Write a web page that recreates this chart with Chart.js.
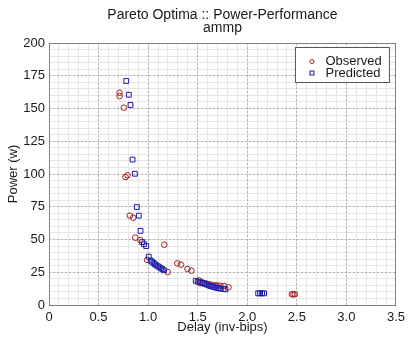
<!DOCTYPE html>
<html>
<head>
<meta charset="utf-8">
<script src="https://cdn.jsdelivr.net/npm/chart.js@4/dist/chart.umd.min.js"></script>
<style>
  html, body { margin: 0; padding: 0; background: #fff; }
  canvas { display: block; }
</style>
</head>
<body>
<canvas id="paretoChart" width="410" height="338"></canvas>
<script>
const titleLines = ["Pareto Optima :: Power-Performance", "ammp"];
const xTicks = [0, 0.5, 1, 1.5, 2, 2.5, 3, 3.5];
const yTicks = [0, 25, 50, 75, 100, 125, 150, 175, 200];

// observed (red circles)
const obsDelay = [0.712, 0.712, 0.755, 0.772, 0.792, 0.816, 0.850, 0.870, 0.921, 0.990,
  1.163, 1.197, 1.294, 1.331, 1.397, 1.437, 1.515, 1.525, 1.55, 1.58,
  1.615, 1.648, 1.68, 1.70, 1.73, 1.765, 1.81, 2.45, 2.465, 2.48];
const obsPower = [162, 159.5, 150.6, 97.7, 99, 68.2, 66.6, 51.4, 49.6, 34.5,
  46, 25.2, 31.8, 30.8, 27.5, 26.2, 18.8, 16.6, 17.2, 16.6,
  16, 15.3, 15, 14.8, 14.7, 14.5, 13.5, 8.2, 8.2, 8.2];

// predicted (blue squares)
const predDelay = [0.779, 0.805, 0.822, 0.843, 0.866, 0.886, 0.906, 0.923, 0.94, 0.958,
  0.98, 1.006, 1.025, 1.04, 1.055, 1.07, 1.085, 1.10, 1.115, 1.13,
  1.145, 1.16, 1.48, 1.50, 1.52, 1.55, 1.57, 1.59, 1.61, 1.63,
  1.65, 1.67, 1.69, 1.71, 1.73, 1.76, 1.78, 2.11, 2.13, 2.15, 2.17];
const predPower = [171, 160.5, 152.7, 111, 100.2, 74.8, 68.2, 56.6, 48, 46.4,
  45, 36.9, 34, 33, 32, 31, 30.2, 29.5, 28.7, 28,
  27.3, 26.5, 18.5, 17.8, 17.5, 16.8, 16.2, 15.6, 15, 14.5,
  14, 13.6, 13.2, 12.8, 12.5, 12.2, 12, 8.9, 8.9, 8.9, 8.9];

const obsColor = "#a81c1c";
const predColor = "#1c1ca8";
const textColor = "#1a1a1a";
const fontFamily = "'Liberation Sans', Arial, sans-serif";

Chart.defaults.font.family = fontFamily;
Chart.defaults.font.size = 13;
Chart.defaults.color = textColor;

// title over the plot area, box around it, legend inside top right
const framePlugin = {
  id: "frame",
  afterDraw(chart) {
    const { ctx, chartArea: a } = chart;
    ctx.save();
    ctx.strokeStyle = "#808080";
    ctx.lineWidth = 1;
    ctx.strokeRect(a.left + 0.5, a.top + 0.5, a.right - a.left - 1, a.bottom - a.top);

    const cx = (a.left + a.right) / 2;
    ctx.fillStyle = textColor;
    ctx.font = "14px " + fontFamily;
    ctx.textAlign = "center";
    ctx.textBaseline = "alphabetic";
    ctx.fillText(titleLines[0], cx, 19);
    ctx.fillText(titleLines[1], cx, 32);

    // legend
    const lx = a.right - 100.5, ly = a.top + 4.5, lw = 94, lh = 35;
    ctx.fillStyle = "#fff";
    ctx.fillRect(lx, ly, lw, lh);
    ctx.strokeStyle = "#555";
    ctx.strokeRect(lx, ly, lw, lh);

    ctx.lineWidth = 1;
    ctx.strokeStyle = obsColor;
    ctx.beginPath();
    ctx.arc(lx + 16.5, ly + 14, 2, 0, Math.PI * 2);
    ctx.stroke();
    ctx.strokeStyle = predColor;
    ctx.strokeRect(lx + 14.5, ly + 23.5, 4, 4);

    ctx.fillStyle = textColor;
    ctx.font = "13px " + fontFamily;
    ctx.textAlign = "left";
    ctx.textBaseline = "middle";
    ctx.fillText("Observed", lx + 30, ly + 14);
    ctx.fillText("Predicted", lx + 30, ly + 26);
    ctx.restore();
  }
};

const ctx = document.getElementById("paretoChart").getContext("2d");

new Chart(ctx, {
  type: "scatter",
  data: {
    datasets: [
      {
        label: "Observed",
        data: obsDelay.map((d, i) => ({ x: d, y: obsPower[i] })),
        pointStyle: "circle",
        radius: 2.8,
        borderWidth: 1,
        borderColor: obsColor,
        backgroundColor: "rgba(0,0,0,0)",
        order: 2,
      },
      {
        label: "Predicted",
        data: predDelay.map((d, i) => ({ x: d, y: predPower[i] })),
        pointStyle: "rect",
        radius: 3.4,
        borderWidth: 1,
        borderColor: predColor,
        backgroundColor: "rgba(0,0,0,0)",
        order: 1,
      },
    ],
  },
  options: {
    responsive: false,
    animation: false,
    devicePixelRatio: 1,
    layout: { padding: { top: 43, right: 12, left: 0, bottom: 0 } },
    plugins: {
      legend: { display: false },
      title: { display: false },
      tooltip: { enabled: false },
    },
    scales: {
      xMinor: {
        type: "linear",
        position: "bottom",
        min: 0, max: 3.5,
        ticks: { display: false, stepSize: 0.1 },
        grid: { color: "#e6e6e6", drawTicks: false },
        border: { display: false },
        afterFit: s => { s.height = 0; },
      },
      yMinor: {
        type: "linear",
        position: "left",
        min: 0, max: 200,
        ticks: { display: false, stepSize: 5 },
        grid: { color: "#e6e6e6", drawTicks: false },
        border: { display: false },
        afterFit: s => { s.width = 0; },
      },
      x: {
        type: "linear",
        position: "bottom",
        min: 0, max: 3.5,
        afterBuildTicks: s => { s.ticks = xTicks.map(v => ({ value: v })); },
        ticks: { padding: 5, autoSkip: false },
        grid: { color: "#b4b4b4", drawTicks: false },
        border: { display: false, dash: [2, 2] },
        title: { display: true, text: "Delay (inv-bips)", padding: { top: 0, bottom: 3 } },
        afterFit: s => { s.height = 33; },
      },
      y: {
        type: "linear",
        position: "left",
        min: 0, max: 200,
        afterBuildTicks: s => { s.ticks = yTicks.map(v => ({ value: v })); },
        ticks: { padding: 4, autoSkip: false },
        grid: { color: "#b4b4b4", drawTicks: false },
        border: { display: false, dash: [2, 2] },
        title: { display: true, text: "Power (w)", padding: { top: 6, bottom: 0 } },
        afterFit: s => { s.width = 49; },
      },
    },
  },
  plugins: [framePlugin],
});
</script>
</body>
</html>
